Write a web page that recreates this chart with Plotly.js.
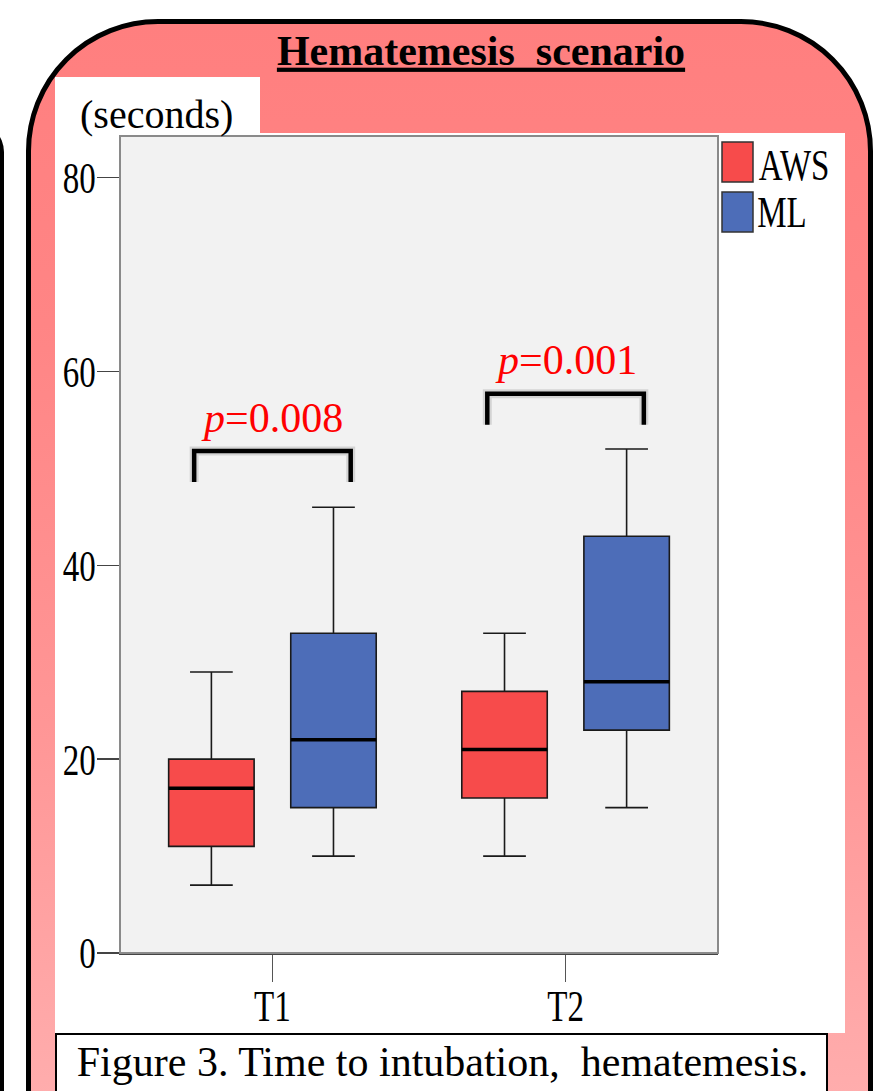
<!DOCTYPE html>
<html>
<head>
<meta charset="utf-8">
<script src="https://cdn.plot.ly/plotly-3.0.1.min.js"></script>
<style>
  html, body { margin: 0; padding: 0; background: #ffffff; }
  #page { position: relative; width: 884px; height: 1091px; overflow: hidden; background: #ffffff; }
  #neighbor { position: absolute; left: -120px; top: 122px; width: 120px; height: 1100px;
              border-right: 4px solid #000; border-top-right-radius: 30px; border-top: 4px solid #000; }
  #frame { position: absolute; left: 26px; top: 19px; width: 837px; height: 1200px;
           border: 5px solid #000; border-radius: 132px;
           background: linear-gradient(to bottom, #ff7f7f 0px, #ff8585 300px, #ff9696 700px, #ffadad 1072px, #ffadad 1200px); }
  #white1 { position: absolute; left: 55px; top: 77px; width: 205px; height: 60px; background: #fff; }
  #white2 { position: absolute; left: 55px; top: 133px; width: 790px; height: 900px; background: #fff; }
  #caption { position: absolute; left: 55px; top: 1033px; width: 773px; height: 120px; background: #fff;
             border: 2px solid #000; box-sizing: border-box; }
  #captionText { position: absolute; left: 0; top: 1037px; width: 885px; text-align: center;
                 font-family: "Liberation Serif", "Times New Roman", serif; font-size: 42px; color: #000;
                 white-space: pre; line-height: 50px; }
  #chart { position: absolute; left: 0; top: 0; width: 884px; height: 1091px; }
</style>
</head>
<body>
<div id="page">
  <div id="neighbor"></div>
  <div id="frame"></div>
  <div id="white1"></div>
  <div id="white2"></div>
  <div id="caption"></div>
  <div id="captionText">Figure 3. Time to intubation,  hematemesis.</div>
  <div id="chart"></div>
</div>
<script>
// ---------------- data ----------------
const categories = ['T1', 'T2'];
const seriesNames = ['AWS', 'ML'];
const awsLower  = [7, 10];
const awsQ1     = [11, 16];
const awsMedian = [17, 21];
const awsQ3     = [20, 27];
const awsUpper  = [29, 33];
const mlLower   = [10, 15];
const mlQ1      = [15, 23];
const mlMedian  = [22, 28];
const mlQ3      = [33, 43];
const mlUpper   = [46, 52];
const pLabels   = ['0.008', '0.001'];
const bracketTops = [51.8, 57.7];
const pTextY    = [55.2, 61.2];
const yTickVals = [0, 20, 40, 60, 80];
const yTickText = ['0', '20', '40', '60', '80'];

// ---------------- styling ----------------
const serif = '"Liberation Serif", "Times New Roman", serif';
const colors = ['#f74b4b', '#4d6db8'];
const W = 884, H = 1091;
const M = { l: 120, r: 166, t: 136, b: 138 };
const plotW = W - M.l - M.r, plotH = H - M.t - M.b;
const px2x = px => (px - M.l) / plotW;      // page px -> paper x
const py2y = py => (H - M.b - py) / plotH;  // page px -> paper y
const boxGap = 0.167, boxGroupGap = 0.30;

const lowers = [awsLower, mlLower], q1s = [awsQ1, mlQ1], meds = [awsMedian, mlMedian],
      q3s = [awsQ3, mlQ3], uppers = [awsUpper, mlUpper];

const traces = seriesNames.map((name, k) => ({
  type: 'box',
  name: name,
  x: categories,
  q1: q1s[k], median: meds[k], q3: q3s[k],
  lowerfence: lowers[k], upperfence: uppers[k],
  fillcolor: colors[k],
  line: { color: '#1a1a1a', width: 1.6 },
  whiskerwidth: 0.5,
  boxpoints: false,
  hoverinfo: 'skip',
  showlegend: false
}));

const shapes = [];
// plot border (gray)
shapes.push({ type: 'rect', xref: 'paper', yref: 'paper', x0: 0, x1: 1, y0: 0, y1: 1,
              line: { color: '#8a8a8a', width: 2 }, layer: 'above' });
// thicker median lines, placed with the same grouping geometry as the boxes
const dPos = 0.5;
seriesNames.forEach((name, k) => {
  const bPos = 2 * dPos * (-0.5 + (k + 0.5) / 2) * (1 - boxGap);
  const bdPos = dPos * (1 - boxGap) * (1 - boxGroupGap) / 2;
  categories.forEach((c, i) => {
    shapes.push({ type: 'line', xref: 'x', yref: 'y',
                  x0: i + bPos - bdPos, x1: i + bPos + bdPos, y0: meds[k][i], y1: meds[k][i],
                  line: { color: '#000', width: 3.5 } });
  });
});
// significance brackets (soft shadow + bracket)
const bracketHalf = 0.267, bracketLeg = 3.2;
categories.forEach((c, i) => {
  const yt = bracketTops[i];
  const p = `M ${i - bracketHalf} ${yt - bracketLeg} L ${i - bracketHalf} ${yt} L ${i + bracketHalf} ${yt} L ${i + bracketHalf} ${yt - bracketLeg}`;
  shapes.push({ type: 'path', xref: 'x', yref: 'y', path: p, line: { color: 'rgba(0,0,0,0.12)', width: 9 } });
  shapes.push({ type: 'path', xref: 'x', yref: 'y', path: p, line: { color: '#000', width: 4.5 } });
});
// legend swatches
const legendSw = [[142, 182], [192, 232]];
seriesNames.forEach((name, k) => {
  shapes.push({ type: 'rect', xref: 'paper', yref: 'paper',
    x0: px2x(722), x1: px2x(753), y0: py2y(legendSw[k][1]), y1: py2y(legendSw[k][0]),
    fillcolor: colors[k], line: { color: '#333', width: 1.5 } });
});

const annotations = [];
categories.forEach((c, i) => {
  annotations.push({ xref: 'x', yref: 'y', x: i, y: pTextY[i], showarrow: false,
    text: '<i>p</i>=' + pLabels[i], font: { family: serif, size: 42, color: '#ff0000' },
    xanchor: 'center', yanchor: 'middle' });
});
annotations.push({ xref: 'paper', yref: 'paper', x: px2x(78), y: py2y(114), showarrow: false,
  text: '(seconds)', font: { family: serif, size: 40, color: '#000' }, xanchor: 'left', yanchor: 'middle' });
const legendTextCx = [794, 782], legendTextCy = [165, 212];
seriesNames.forEach((name, k) => {
  annotations.push({ xref: 'paper', yref: 'paper', x: px2x(legendTextCx[k]), y: py2y(legendTextCy[k]),
    showarrow: false, text: name, font: { family: serif, size: 44, color: '#000' },
    xanchor: 'center', yanchor: 'middle' });
});

const layout = {
  width: W, height: H,
  margin: M,
  paper_bgcolor: 'rgba(0,0,0,0)',
  plot_bgcolor: '#f2f2f2',
  showlegend: false,
  boxmode: 'group', boxgap: boxGap, boxgroupgap: boxGroupGap,
  title: { text: '<b><u>Hematemesis  scenario</u></b>', font: { family: serif, size: 42, color: '#000' },
           xref: 'paper', x: px2x(481), xanchor: 'center', yref: 'container', y: 1 - 50 / H, yanchor: 'middle' },
  xaxis: { type: 'category', range: [-0.52, 1.52], showgrid: false, zeroline: false,
           showline: true, linecolor: '#444', linewidth: 1.5,
           ticks: 'outside', ticklen: 27, tickwidth: 1.5, tickcolor: '#555',
           tickfont: { family: serif, size: 44, color: '#000' }, fixedrange: true },
  yaxis: { range: [0, 84.3], showgrid: false, zeroline: false,
           showline: true, linecolor: '#444', linewidth: 1.5,
           tickmode: 'array', tickvals: yTickVals, ticktext: yTickText,
           ticks: 'outside', ticklen: 22, tickwidth: 1.5, tickcolor: '#444',
           tickfont: { family: serif, size: 44, color: '#000' }, fixedrange: true },
  shapes: shapes,
  annotations: annotations
};

Plotly.newPlot('chart', traces, layout, { staticPlot: true, displayModeBar: false }).then(() => {
  // the chart image in the reference is horizontally condensed
  const squeeze = 0.75;
  const squish = t => {
    const L = t.getComputedTextLength();
    t.setAttribute('textLength', (L * squeeze).toFixed(1));
    t.setAttribute('lengthAdjust', 'spacingAndGlyphs');
  };
  const shift = (t, dx, dy) => {
    t.setAttribute('transform', ((t.getAttribute('transform') || '') + ` translate(${dx},${dy})`).trim());
  };
  document.querySelectorAll('.xtick text').forEach(t => { squish(t); shift(t, 0, -13); });
  document.querySelectorAll('.ytick text').forEach(t => { squish(t); shift(t, 8, 0); });
  document.querySelectorAll('.annotation-text').forEach(t => {
    if (seriesNames.includes(t.textContent)) squish(t);
  });
});
</script>
</body>
</html>
